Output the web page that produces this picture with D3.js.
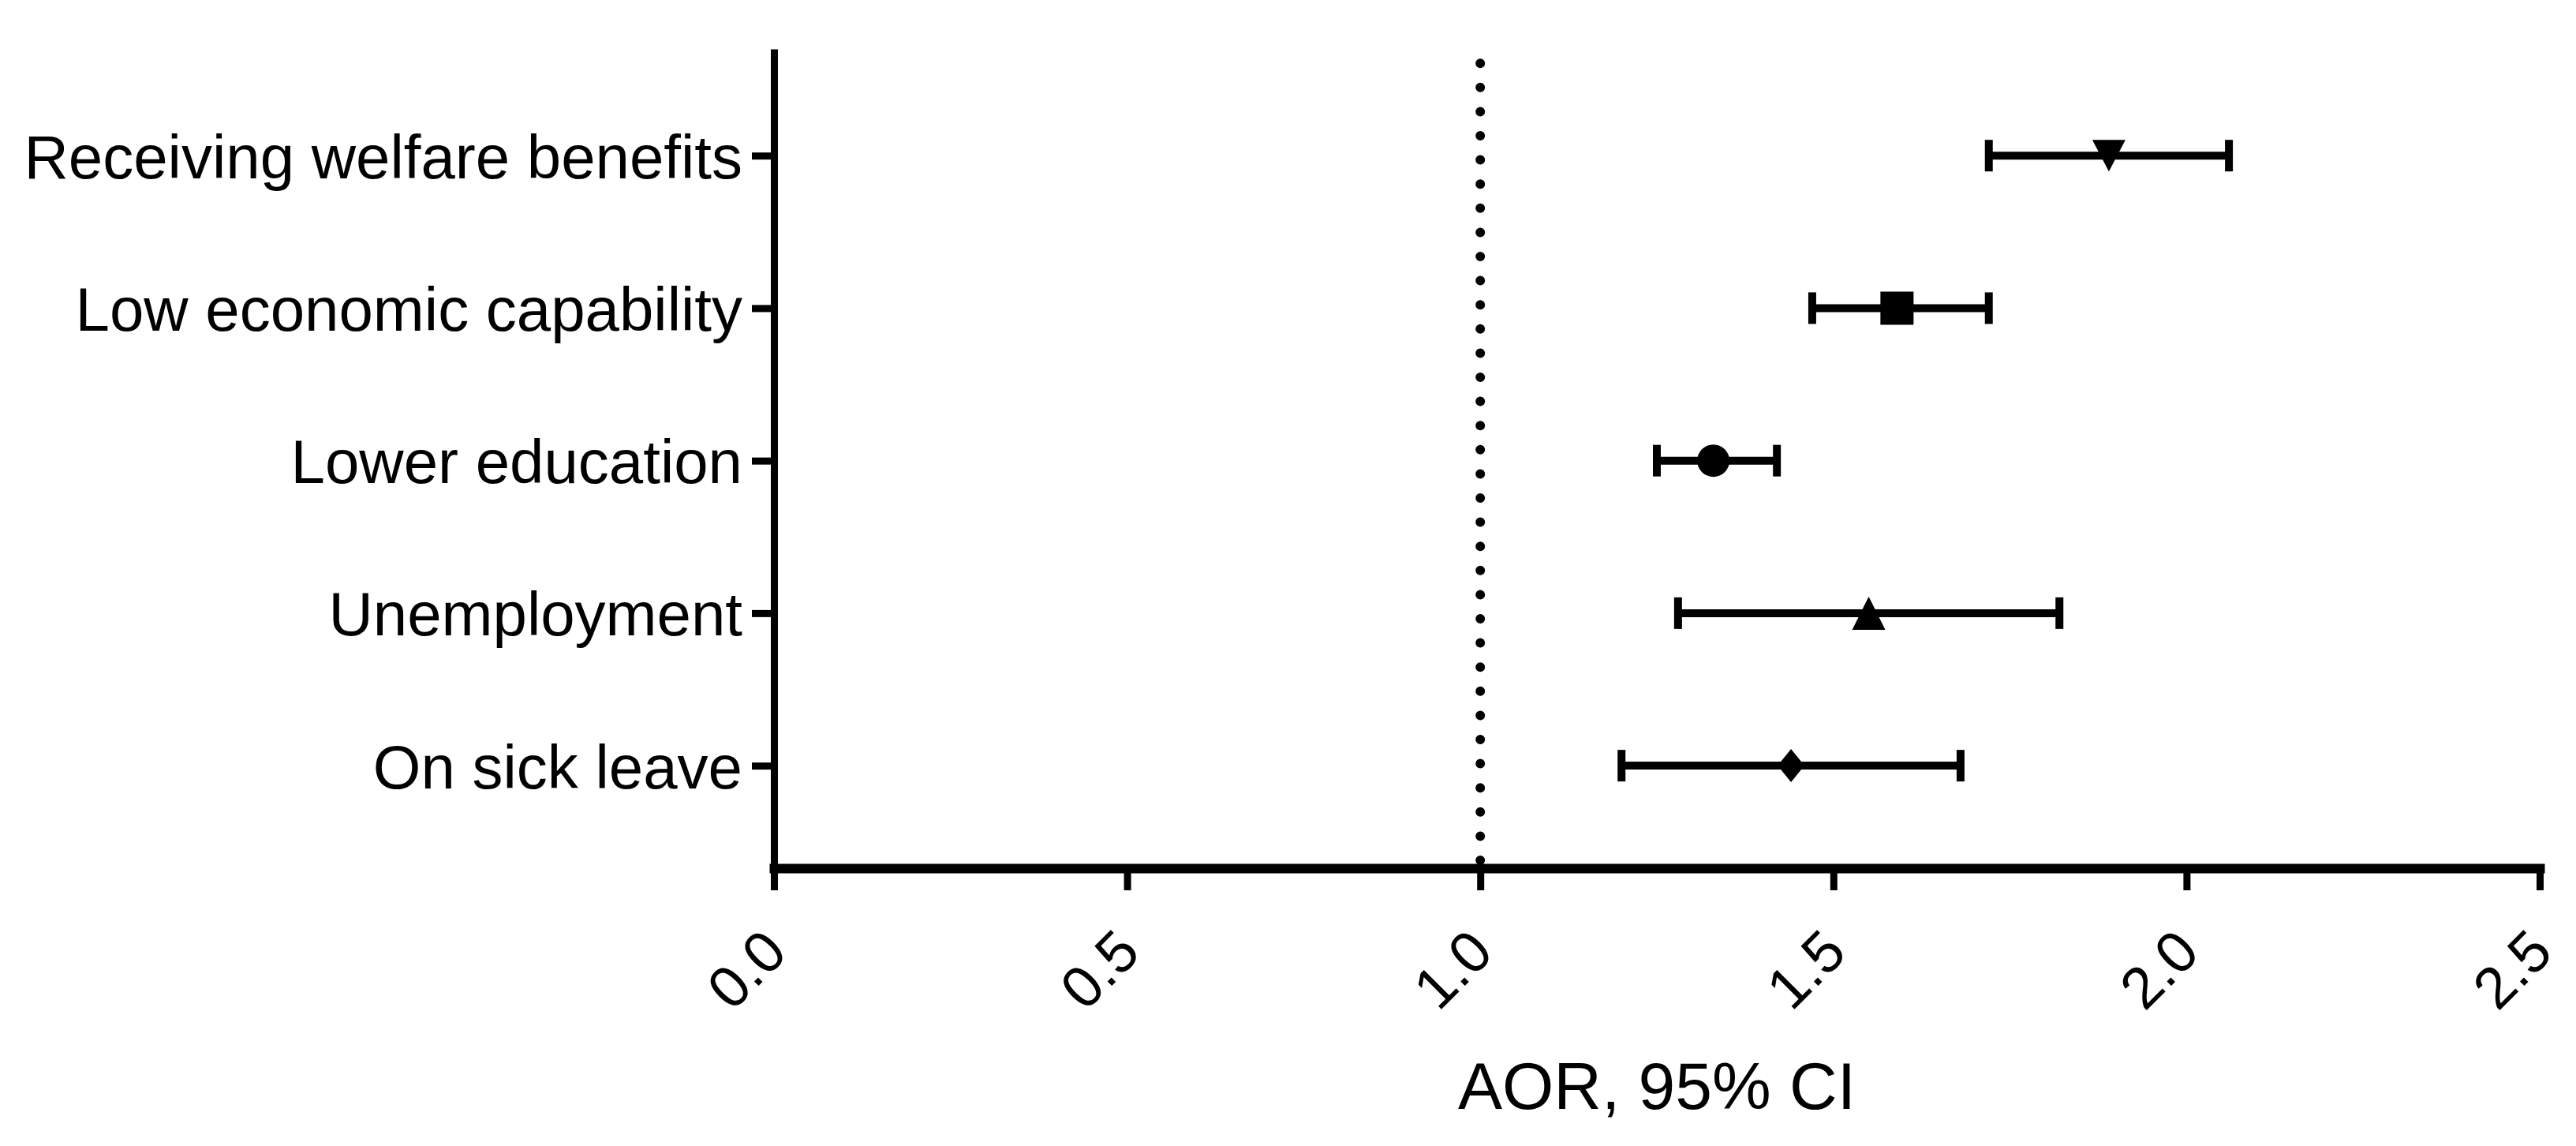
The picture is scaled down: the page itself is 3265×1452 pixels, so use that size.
<!DOCTYPE html>
<html>
<head>
<meta charset="utf-8">
<script src="https://cdn.jsdelivr.net/npm/d3@7"></script>
<style>
  body { margin: 0; background: #fff; }
  svg { display: block; }
</style>
</head>
<body>
<svg class="chart" width="3265" height="1452"></svg>
<script>
/* Data */
var categories = [
  'Receiving welfare benefits',
  'Low economic capability',
  'Lower education',
  'Unemployment',
  'On sick leave'
];
var aor = [1.89, 1.59, 1.33, 1.55, 1.44];
var ciLow = [1.72, 1.47, 1.25, 1.28, 1.20];
var ciHigh = [2.06, 1.72, 1.42, 1.82, 1.68];
var markerShapes = ['triangle-down', 'square', 'circle', 'triangle-up', 'diamond'];
var xTickValues = [0, 0.5, 1, 1.5, 2, 2.5];
var refValue = 1.0;
var xTitle = 'AOR, 95% CI';

var rows = categories.map(function (c, i) {
  return { name: c, est: aor[i], lo: ciLow[i], hi: ciHigh[i], shape: markerShapes[i] };
});

var font = '"Liberation Sans", Arial, sans-serif';
var svg = d3.select('.chart');

/* Scales */
var xScale = d3.scaleLinear()
  .domain([0, 2.5])
  .range([981, 3219]);

var yScale = d3.scalePoint()
  .domain(categories)
  .range([62, 1100])
  .padding(0.686)
  .align(0.51);

/* Reference line */
svg.append('line')
  .attr('x1', xScale(refValue))
  .attr('x2', xScale(refValue))
  .attr('y1', 1100)
  .attr('y2', 62)
  .attr('stroke', '#000')
  .attr('stroke-width', 12)
  .attr('stroke-linecap', 'round')
  .attr('stroke-dasharray', '0 30.6')
  .attr('stroke-dashoffset', -10);

/* Axes */
var xAxis = d3.axisBottom(xScale)
  .tickValues(xTickValues)
  .tickFormat(d3.format('.1f'))
  .tickSize(28)
  .tickSizeOuter(0);

var gx = svg.append('g')
  .attr('transform', 'translate(0,1100)')
  .call(xAxis);
gx.select('.domain')
  .attr('stroke-width', 12)
  .attr('stroke-linecap', 'square');
gx.selectAll('.tick line').attr('stroke-width', 9);
gx.selectAll('.tick text')
  .attr('y', 0)
  .attr('dy', 0)
  .attr('transform', 'translate(19,110) rotate(-45)')
  .attr('text-anchor', 'end')
  .style('font-family', font)
  .style('font-size', '74px')
  .attr('fill', '#000');

var yAxis = d3.axisLeft(yScale)
  .tickSize(28)
  .tickSizeOuter(0)
  .tickPadding(12);

var gy = svg.append('g')
  .attr('transform', 'translate(981,0)')
  .call(yAxis);
gy.select('.domain').attr('stroke-width', 9);
gy.selectAll('.tick line').attr('stroke-width', 9);
gy.selectAll('.tick text')
  .attr('dy', '0.36em')
  .style('font-family', font)
  .style('font-size', '78px')
  .attr('fill', '#000');

/* Axis title */
svg.append('text')
  .attr('x', (xScale.range()[0] + xScale.range()[1]) / 2)
  .attr('y', 1405)
  .attr('text-anchor', 'middle')
  .style('font-family', font)
  .style('font-size', '84px')
  .attr('fill', '#000')
  .text(xTitle);

/* Error bars */
var capHalf = 20;
var bars = svg.append('g')
  .attr('stroke', '#000')
  .attr('stroke-width', 10);

bars.selectAll('line.ci')
  .data(rows)
  .join('line')
  .attr('class', 'ci')
  .attr('x1', function (d) { return xScale(d.lo); })
  .attr('x2', function (d) { return xScale(d.hi); })
  .attr('y1', function (d) { return yScale(d.name); })
  .attr('y2', function (d) { return yScale(d.name); });

bars.selectAll('line.caplo')
  .data(rows)
  .join('line')
  .attr('class', 'caplo')
  .attr('x1', function (d) { return xScale(d.lo); })
  .attr('x2', function (d) { return xScale(d.lo); })
  .attr('y1', function (d) { return yScale(d.name) - capHalf; })
  .attr('y2', function (d) { return yScale(d.name) + capHalf; });

bars.selectAll('line.caphi')
  .data(rows)
  .join('line')
  .attr('class', 'caphi')
  .attr('x1', function (d) { return xScale(d.hi); })
  .attr('x2', function (d) { return xScale(d.hi); })
  .attr('y1', function (d) { return yScale(d.name) - capHalf; })
  .attr('y2', function (d) { return yScale(d.name) + capHalf; });

/* Markers */
function markerPath(shape) {
  var p = d3.path();
  if (shape === 'square') {
    p.rect(-21, -21, 42, 42);
  } else if (shape === 'circle') {
    p.arc(0, 0, 20.5, 0, 2 * Math.PI);
  } else if (shape === 'triangle-up') {
    p.moveTo(0, -21); p.lineTo(21, 21); p.lineTo(-21, 21); p.closePath();
  } else if (shape === 'triangle-down') {
    p.moveTo(-21, -20); p.lineTo(21, -20); p.lineTo(0, 20); p.closePath();
  } else if (shape === 'diamond') {
    p.moveTo(0, -21); p.lineTo(17, 0); p.lineTo(0, 21); p.lineTo(-17, 0); p.closePath();
  }
  return p.toString();
}

svg.append('g')
  .selectAll('path.marker')
  .data(rows)
  .join('path')
  .attr('class', 'marker')
  .attr('d', function (d) { return markerPath(d.shape); })
  .attr('transform', function (d) {
    return 'translate(' + xScale(d.est) + ',' + yScale(d.name) + ')';
  })
  .attr('fill', '#000');
</script>
</body>
</html>
